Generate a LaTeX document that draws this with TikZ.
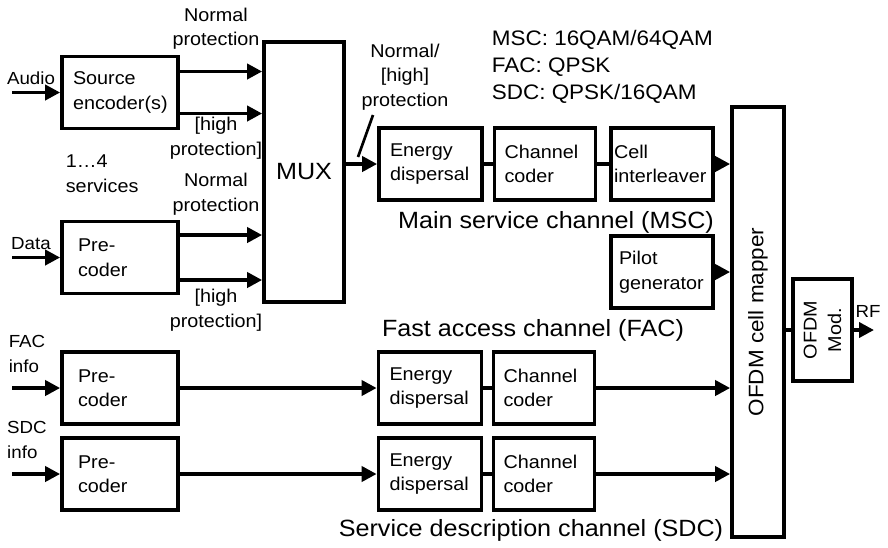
\documentclass[tikz,border=0pt]{standalone}
\usepackage{fontspec}
\setmainfont{Liberation Sans}[FakeStretch=1.07]
\usetikzlibrary{arrows.meta,positioning}
\newcommand\stdfont{\fontsize{18.5}{24.5}\selectfont}
\newcommand\chanfont{\fontsize{23.5}{28}\selectfont}
\newcommand\qamfont{\fontsize{21}{27}\selectfont}
\newcommand\iofont{\fontsize{17.5}{25}\selectfont}

\begin{document}
\begin{tikzpicture}[x=1pt,y=-1pt,>={Triangle[length=15pt,width=15pt]},
 line width=3.7pt, every node/.style={font=\stdfont},
 box/.style 2 args={draw,minimum height=72pt,align=left,text width=#1,inner xsep=#2},
 note/.style={align=center,inner sep=0pt},
 io/.style={align=left,inner sep=0pt,font=\iofont}]
\useasboundingbox (0,0) rectangle (888,547);
% service inputs
\node[box={94pt}{11pt}] (src) at (120,92.5) {Source\\encoder(s)};
\node[box={84pt}{16pt}] (pre1) at (120,257.5) {Pre-\\coder};
\node[draw,minimum width=80pt,minimum height=260pt,font=\chanfont] (mux) at (304,172) {MUX};
% main service channel
\node[box={81pt}{11pt}] (ed1) at (430.5,164) {Energy\\dispersal};
\node[box={81pt}{10pt}] (cc1) at (545,164) {Channel\\coder};
\node[box={96pt}{3pt}] (cil) at (662,164) {Cell\\interleaver};
\node[box={86pt}{8pt}] (pil) at (662,272) {Pilot\\generator};
% rotated blocks: north = left side, south = right side
\node[draw,rotate=90,minimum width=430pt,minimum height=52pt,font=\qamfont] (map) at (758,322) {OFDM cell mapper};
\node[draw,rotate=90,minimum width=102pt,minimum height=59pt,align=center] (mod) at (822.5,330) {OFDM\\Mod.};
% FAC and SDC
\node[box={84pt}{16pt}] (pre2) at (120,388) {Pre-\\coder};
\node[box={81pt}{11pt}] (ed2) at (430,388) {Energy\\dispersal};
\node[box={81pt}{10pt}] (cc2) at (544,388) {Channel\\coder};
\node[box={84pt}{16pt}] (pre3) at (120,474) {Pre-\\coder};
\node[box={81pt}{11pt}] (ed3) at (430,474) {Energy\\dispersal};
\node[box={81pt}{10pt}] (cc3) at (544,474) {Channel\\coder};

% labels
\node[io] (aud) at (31,78) {Audio};
\node[io] (dat) at (31,244) {Data};
\node[io] (faci) at (27,354) {FAC\\info};
\node[io] (sdci) at (27,440) {SDC\\info};
\node[io] (rf) at (868,311) {RF};
\node[note] (np1) at (216,28.5) {Normal\\protection};
\node[note] (hp1) at (216,138) {[high\\protection]};
\node[note,anchor=west,align=left] (svc) at (64,173.5) {1…4\\services};
\node[note] (np2) at (216,194) {Normal\\protection};
\node[note] (hp2) at (216,310) {[high\\protection]};
\node[note] (nhp) at (405,77) {Normal/\\{[high]}\\protection};
\node[note,anchor=west,align=left,font=\qamfont] (qam) at (490,67)
 {MSC: 16QAM/64QAM\\FAC: QPSK\\SDC: QPSK/16QAM};
\node[font=\chanfont] (msc) at (556,222) {Main service channel (MSC)};
\node[font=\chanfont] (fac) at (533,330) {Fast access channel (FAC)};
\node[font=\chanfont] (sdc) at (531,530) {Service description channel (SDC)};

\coordinate (audin) at (12,92.5);
\coordinate (datin) at (12,257.5);
\coordinate (facin) at (12,388);
\coordinate (sdcin) at (12,474);
\coordinate (rfout) at (874,330);
\coordinate (tip) at (358,157);

% connectors
\draw[->] (audin) -- (src.west);
\draw[->] ([yshift=21pt]src.east) -- ([yshift=21pt]mux.west |- src.east);
\draw[->] ([yshift=-21pt]src.east) -- ([yshift=-21pt]mux.west |- src.east);
\draw[->] (datin) -- (pre1.west);
\draw[->] ([yshift=22.5pt]pre1.east) -- ([yshift=22.5pt]mux.west |- pre1.east);
\draw[->] ([yshift=-22.5pt]pre1.east) -- ([yshift=-22.5pt]mux.west |- pre1.east);
\draw[->] (mux.east |- ed1.west) -- (ed1.west);
\draw[line width=2.7pt] (373,115) -- (tip);
\draw (ed1) -- (cc1) -- (cil);
\draw[->] (cil) -- (cil -| map.north);
\draw[->] (pil) -- (pil -| map.north);
\draw[->] (facin) -- (pre2.west);
\draw[->] (pre2) -- (ed2);
\draw (ed2) -- (cc2);
\draw[->] (cc2) -- (cc2 -| map.north);
\draw[->] (sdcin) -- (pre3.west);
\draw[->] (pre3) -- (ed3);
\draw (ed3) -- (cc3);
\draw[->] (cc3) -- (cc3 -| map.north);
\draw (mod.north -| map.south) -- (mod.north);
\draw[->] (mod.south) -- (rfout);
\end{tikzpicture}
\end{document}
